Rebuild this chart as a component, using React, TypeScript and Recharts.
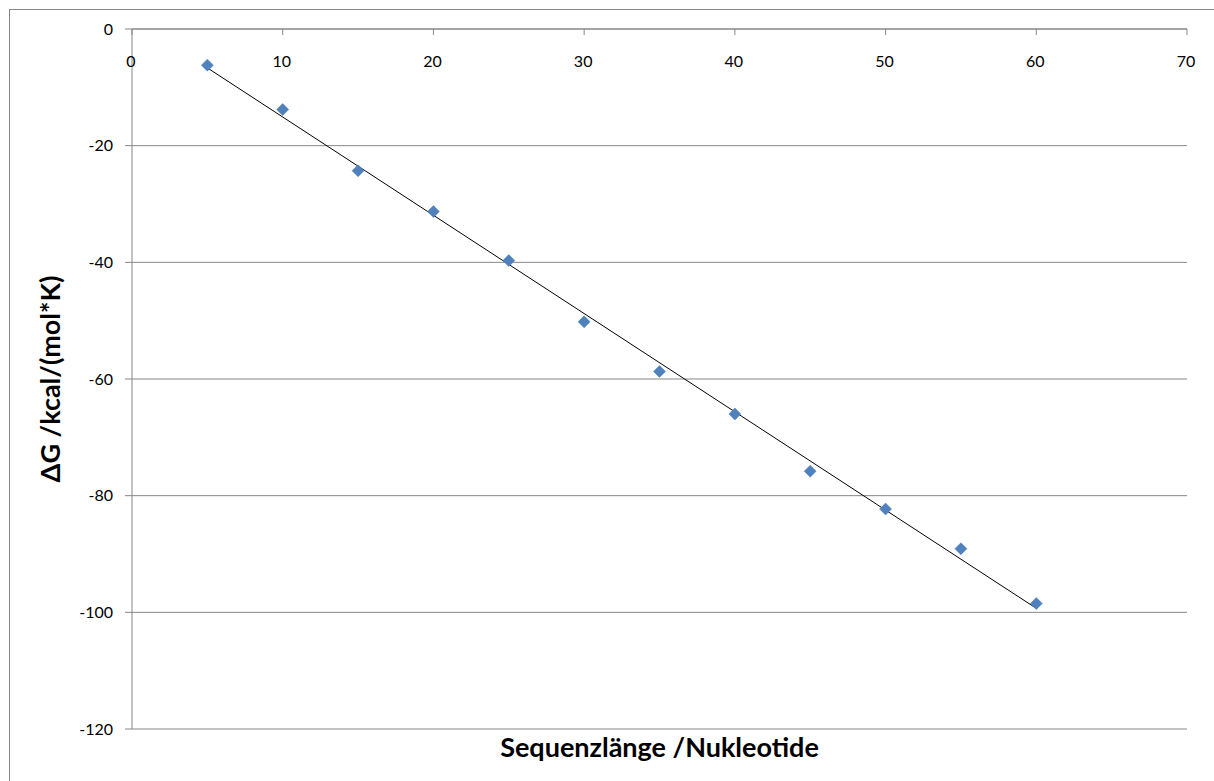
import React from 'react';
import { ScatterChart, Scatter, XAxis, YAxis, CartesianGrid, Label } from 'recharts';

const lengths = [5, 10, 15, 20, 25, 30, 35, 40, 45, 50, 55, 60];
const deltaG = [-6.2, -13.8, -24.3, -31.3, -39.7, -50.2, -58.7, -66.0, -75.8, -82.3, -89.1, -98.5];
const xTicks = [0, 10, 20, 30, 40, 50, 60, 70];
const yTicks = [-120, -100, -80, -60, -40, -20, 0];
const xTitle = 'Sequenzlänge /Nukleotide';
const yTitle = 'ΔG /kcal/(mol*K)';

const points = lengths.map((x, i) => ({ x, y: deltaG[i] }));

// linear least-squares trend line through the data
const n = lengths.length;
const mx = lengths.reduce((a, b) => a + b, 0) / n;
const my = deltaG.reduce((a, b) => a + b, 0) / n;
let sxy = 0;
let sxx = 0;
lengths.forEach((x, i) => {
  sxy += (x - mx) * (deltaG[i] - my);
  sxx += (x - mx) * (x - mx);
});
const slope = sxy / sxx;
const intercept = my - slope * mx;
const trend = [lengths[0], lengths[n - 1]].map((x) => ({ x, y: intercept + slope * x }));

const FONT = 'Lato, "Open Sans", sans-serif';
const GRID = '#868686';
const TITLE_SIZE = 27;
const TICK_SIZE = 16;

const Diamond = (props: any) => {
  const { cx, cy } = props;
  const r = 6;
  return (
    <polygon
      points={`${cx},${cy - r} ${cx + r},${cy} ${cx},${cy + r} ${cx - r},${cy}`}
      fill="#4F81BD"
      stroke="#4A7EBB"
      strokeWidth={0.5}
    />
  );
};

const NoShape = () => <g />;

const XTick = (props: any) => {
  const { x, y, payload } = props;
  return (
    <g>
      <line x1={x} y1={y} x2={x} y2={y + 6} stroke={GRID} />
      <text
        x={x - 1}
        y={y + 31}
        textAnchor="middle"
        dominantBaseline="central"
        fontSize={TICK_SIZE}
        fontFamily={FONT}
        fill="#000"
      >
        {payload.value}
      </text>
    </g>
  );
};

const XTitle = (props: any) => {
  const vb = props.viewBox || {};
  return (
    <text
      x={vb.x + vb.width / 2}
      y={vb.y + vb.height + 717}
      textAnchor="middle"
      dominantBaseline="central"
      fontSize={TITLE_SIZE}
      fontWeight="bold"
      fontFamily={FONT}
      fill="#000"
    >
      {xTitle}
    </text>
  );
};

const YTitle = (props: any) => {
  const vb = props.viewBox || {};
  const cx = vb.x + 49;
  const cy = vb.y + vb.height / 2;
  return (
    <text
      x={cx}
      y={cy}
      textAnchor="middle"
      dominantBaseline="central"
      transform={`rotate(-90, ${cx}, ${cy})`}
      fontSize={TITLE_SIZE}
      fontWeight="bold"
      fontFamily={FONT}
      fill="#000"
    >
      {yTitle}
    </text>
  );
};

export default function App() {
  return (
    <div
      style={{
        position: 'absolute',
        left: 0,
        top: 0,
        width: 1214,
        height: 781,
        overflow: 'hidden',
        background: '#fff',
      }}
    >
      <div
        style={{
          position: 'absolute',
          left: 9,
          top: 9,
          width: 1400,
          height: 1000,
          border: `1px solid ${GRID}`,
          boxSizing: 'border-box',
        }}
      />
      <div style={{ position: 'absolute', left: 0, top: 0 }}>
        <ScatterChart
          width={1214}
          height={781}
          margin={{ top: 0, right: 27, bottom: 52, left: 0 }}
        >
          <CartesianGrid vertical={false} stroke={GRID} />
          <XAxis
            type="number"
            dataKey="x"
            domain={[0, 70]}
            ticks={xTicks}
            orientation="top"
            height={29}
            tickSize={0}
            tickMargin={0}
            tickLine={false}
            axisLine={{ stroke: GRID }}
            tick={<XTick />}
            interval={0}
          >
            <Label content={<XTitle />} />
          </XAxis>
          <YAxis
            type="number"
            dataKey="y"
            domain={[-120, 0]}
            ticks={yTicks}
            width={132}
            tickSize={7}
            tickMargin={12}
            interval={0}
            axisLine={{ stroke: GRID }}
            tickLine={{ stroke: GRID }}
            tick={{ fill: '#000', fontSize: TICK_SIZE, fontFamily: FONT }}
          >
            <Label content={<YTitle />} />
          </YAxis>
          <Scatter
            data={trend}
            line={{ stroke: '#000', strokeWidth: 1 }}
            shape={<NoShape />}
            isAnimationActive={false}
            legendType="none"
          />
          <Scatter data={points} shape={<Diamond />} isAnimationActive={false} />
        </ScatterChart>
      </div>
    </div>
  );
}
